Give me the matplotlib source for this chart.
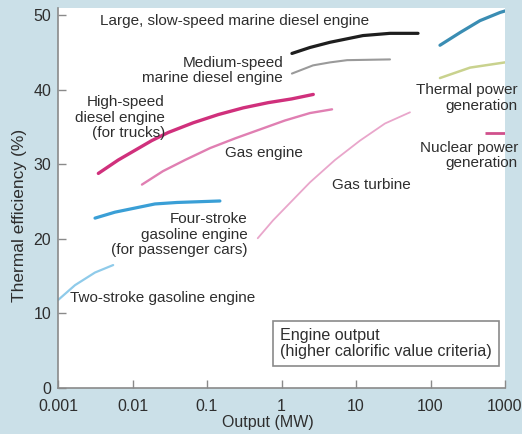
import matplotlib
matplotlib.use("Agg")
import matplotlib.pyplot as plt

plt.rcParams['font.family'] = ['Liberation Sans', 'DejaVu Sans']

# ---- data (output in MW, thermal efficiency in %) ----
slow_marine_x = [1.38, 2.41, 4.48, 12.4, 28.6, 68]
slow_marine_y = [44.9, 45.7, 46.4, 47.3, 47.6, 47.6]

medium_marine_x = [1.38, 2.65, 4.48, 7.6, 28.6]
medium_marine_y = [42.2, 43.3, 43.7, 44.0, 44.1]

hs_diesel_x = [0.00348, 0.00644, 0.0108, 0.0181, 0.0303, 0.0655, 0.142, 0.307, 0.665, 1.37, 2.67]
hs_diesel_y = [28.8, 30.6, 31.9, 33.2, 34.3, 35.6, 36.7, 37.6, 38.3, 38.8, 39.4]

gas_engine_x = [0.0134, 0.0256, 0.0507, 0.110, 0.238, 0.514, 1.11, 2.41, 4.77]
gas_engine_y = [27.3, 29.1, 30.6, 32.2, 33.5, 34.7, 35.9, 36.9, 37.4]

gas_turbine_x = [0.48, 0.77, 2.41, 5.22, 11.3, 24.5, 53]
gas_turbine_y = [20.1, 22.5, 27.6, 30.6, 33.2, 35.5, 37.0]

four_stroke_x = [0.00314, 0.00582, 0.0102, 0.020, 0.0395, 0.149]
four_stroke_y = [22.8, 23.6, 24.1, 24.7, 24.9, 25.1]

two_stroke_x = [0.001, 0.00169, 0.00314, 0.0055]
two_stroke_y = [11.8, 13.8, 15.5, 16.5]

thermal_hi_x = [134, 249, 461, 857, 1000]
thermal_hi_y = [46.0, 47.7, 49.3, 50.4, 50.6]

thermal_lo_x = [134, 340, 1000]
thermal_lo_y = [41.6, 43.0, 43.7]

nuclear_x = [537, 1000]
nuclear_y = [34.2, 34.2]

x_ticks = [0.001, 0.01, 0.1, 1, 10, 100, 1000]
x_tick_labels = ['0.001', '0.01', '0.1', '1', '10', '100', '1000']
y_ticks = [0, 10, 20, 30, 40, 50]

# ---- figure ----
bg = '#cbe0e8'
fig = plt.figure(figsize=(5.22, 4.34), dpi=100, facecolor=bg)
ax = fig.add_axes([58/522, 1-388/434, (505-58)/522, (388-8)/434])
ax.set_facecolor('white')
ax.set_xscale('log')
ax.set_xlim(0.001, 1000)
ax.set_ylim(0, 51)

txtc = '#2e2e2e'
spc = '#8a8a8a'
for s in ['top', 'right']:
    ax.spines[s].set_visible(False)
for s in ['left', 'bottom']:
    ax.spines[s].set_color(spc)
    ax.spines[s].set_linewidth(1.2)

ax.set_xticks(x_ticks)
ax.set_xticklabels(x_tick_labels)
ax.set_yticks(y_ticks)
ax.minorticks_off()
ax.tick_params(axis='both', direction='in', length=6, width=1, color=spc,
               labelsize=11.5, labelcolor=txtc)
ax.tick_params(axis='x', pad=8)
ax.tick_params(axis='y', pad=5)

# ---- curves ----
kw = dict(solid_capstyle='round', solid_joinstyle='round')
ax.plot(slow_marine_x, slow_marine_y, color='#1e1e1e', lw=2.3, **kw)
ax.plot(medium_marine_x, medium_marine_y, color='#9a9a9a', lw=1.5, **kw)
ax.plot(hs_diesel_x, hs_diesel_y, color='#d0307c', lw=2.4, **kw)
ax.plot(gas_engine_x, gas_engine_y, color='#e07fb2', lw=1.7, **kw)
ax.plot(gas_turbine_x, gas_turbine_y, color='#e9a6cb', lw=1.3, **kw)
ax.plot(four_stroke_x, four_stroke_y, color='#3a9fd6', lw=2.3, **kw)
ax.plot(two_stroke_x, two_stroke_y, color='#8fcbea', lw=1.6, **kw)
ax.plot(thermal_hi_x, thermal_hi_y, color='#3a8db3', lw=2.3, **kw)
ax.plot(thermal_lo_x, thermal_lo_y, color='#c9d28e', lw=1.8, **kw)
ax.plot(nuclear_x, nuclear_y, color='#d0508c', lw=2.0, solid_capstyle='butt')

# ---- labels ----
fs = 11
ls = 1.12
ax.text(0.00366, 49.3, 'Large, slow-speed marine diesel engine', fontsize=fs,
        color=txtc, ha='left', va='center')
ax.text(1.05, 42.6, 'Medium-speed\nmarine diesel engine', fontsize=fs, color=txtc,
        ha='right', va='center', multialignment='right', linespacing=ls)
ax.text(0.0273, 36.3, 'High-speed\ndiesel engine\n(for trucks)', fontsize=fs, color=txtc,
        ha='right', va='center', multialignment='right', linespacing=ls)
ax.text(0.58, 31.5, 'Gas engine', fontsize=fs, color=txtc, ha='center', va='center')
ax.text(15.9, 27.3, 'Gas turbine', fontsize=fs, color=txtc, ha='center', va='center')
ax.text(0.355, 20.6, 'Four-stroke\ngasoline engine\n(for passenger cars)', fontsize=fs,
        color=txtc, ha='right', va='center', multialignment='right', linespacing=ls)
ax.text(0.00145, 12.1, 'Two-stroke gasoline engine', fontsize=fs, color=txtc,
        ha='left', va='center')
ax.text(1493, 38.9, 'Thermal power\ngeneration', fontsize=fs, color=txtc,
        ha='right', va='center', multialignment='right', linespacing=ls, clip_on=False)
ax.text(1493, 31.2, 'Nuclear power\ngeneration', fontsize=fs, color=txtc,
        ha='right', va='center', multialignment='right', linespacing=ls, clip_on=False)
ax.text(0.955, 5.97, 'Engine output\n(higher calorific value criteria)', fontsize=11.6,
        color=txtc, ha='left', va='center', linespacing=1.1,
        bbox=dict(boxstyle='square,pad=0.45', facecolor='white', edgecolor='#8a8a8a', lw=1.2))

fig.text(268/522, 1-423/434, 'Output (MW)', fontsize=11.5, color=txtc, ha='center', va='center')
fig.text(20/522, 1-215/434, 'Thermal efficiency (%)', fontsize=12.5, color=txtc,
         ha='center', va='center', rotation=90)

fig.savefig('out.png', dpi=100, facecolor=bg)
